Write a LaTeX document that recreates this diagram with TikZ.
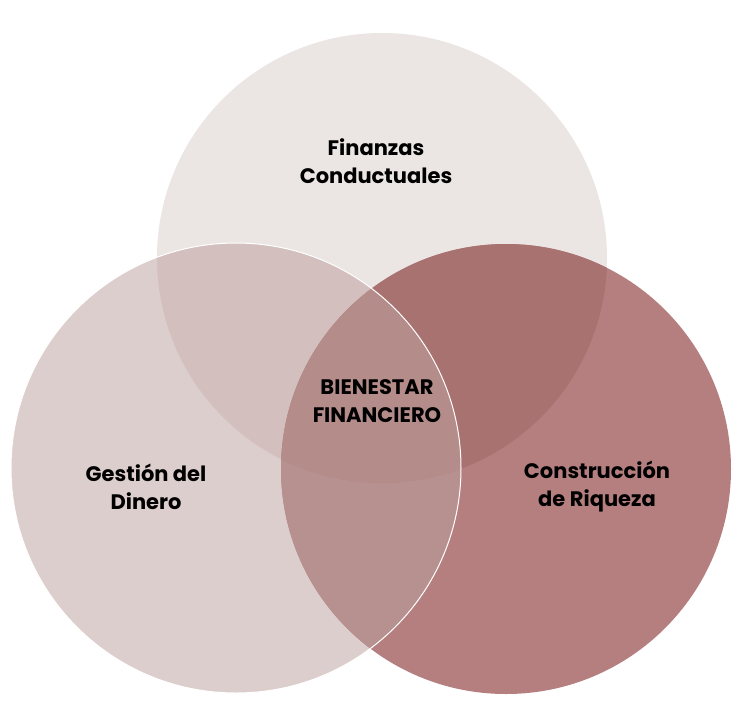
\documentclass[tikz,border=0pt]{standalone}
\usepackage{fontspec}
\setmainfont{Poppins}
\definecolor{topcol}{RGB}{235,230,227}
\definecolor{leftcol}{RGB}{220,206,205}
\definecolor{rightcol}{RGB}{182,127,127}
\definecolor{topleft}{RGB}{211,192,190}
\definecolor{topright}{RGB}{168,114,112}
\definecolor{leftright}{RGB}{183,145,143}
\definecolor{midcol}{RGB}{180,140,138}

\begin{document}
\begin{tikzpicture}[x=1pt,y=-1pt]
        \tikzstyle{every node}=[font=\bfseries\fontsize{21}{28}\selectfont, align=center, text=black, inner sep=0pt]
        \tikzstyle{ring}=[draw=white, line width=1pt]
        \useasboundingbox[fill=white] (0,0) rectangle (750,724);
        \coordinate (top) at (382,258);
        \coordinate (left) at (236,468);
        \coordinate (right) at (506,469);
        % the three circles
        \fill[topcol] (top) circle (225pt);
        \fill[leftcol] (left) circle (225pt);
        \fill[rightcol] (right) circle (225pt);
        % overlaps
        \begin{scope}
            \clip (left) circle (225pt);
            \fill[leftright] (right) circle (225pt);
        \end{scope}
        \begin{scope}
            \clip (top) circle (225pt);
            \fill[topleft] (left) circle (225pt);
            \fill[topright] (right) circle (225pt);
            \clip (left) circle (225pt);
            \fill[midcol] (right) circle (225pt);
        \end{scope}
        \draw[ring] (left) circle (225pt);
        % labels
        \node (finanzas) at (376,161) {Finanzas\\Conductuales};
        \node (bienestar) at (377,401) {BIENESTAR\\FINANCIERO};
        \node (gestion) at (146,487) {Gestión del\\Dinero};
        \node (riqueza) at (597,487) {Construcción\\de Riqueza};
    \end{tikzpicture}
\end{document}
